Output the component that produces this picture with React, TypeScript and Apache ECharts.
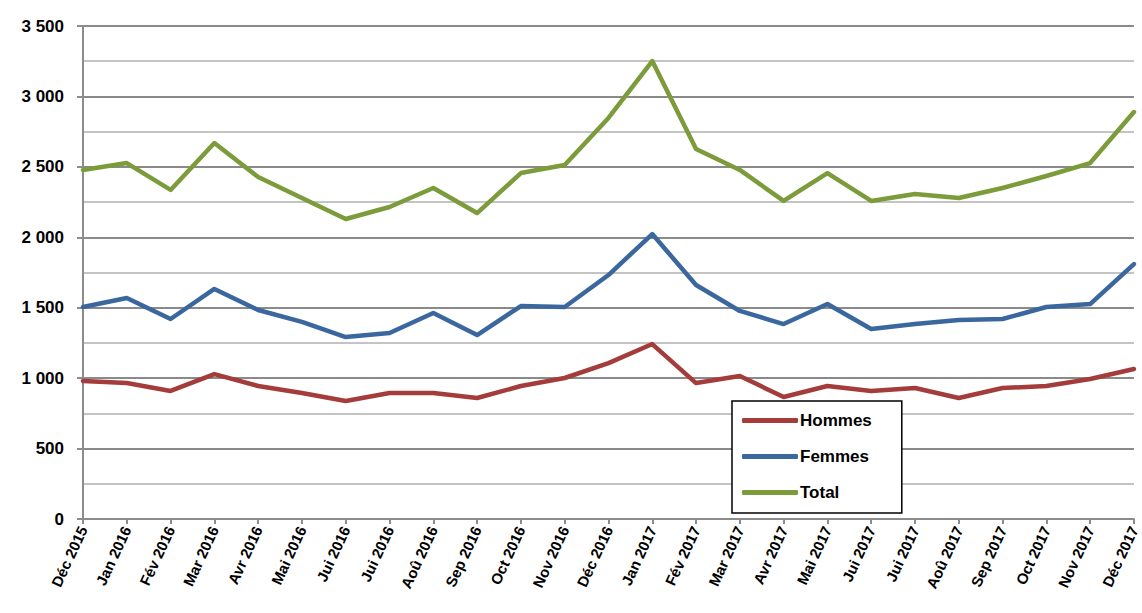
import React, { useEffect, useRef } from "react";
import * as echarts from "echarts";

const categories = [
  "Déc 2015", "Jan 2016", "Fév 2016", "Mar 2016", "Avr 2016", "Mai 2016", "Jui 2016", "Jui 2016",
  "Aoû 2016", "Sep 2016", "Oct 2016", "Nov 2016", "Déc 2016", "Jan 2017", "Fév 2017", "Mar 2017",
  "Avr 2017", "Mai 2017", "Jui 2017", "Jui 2017", "Aoû 2017", "Sep 2017", "Oct 2017", "Nov 2017", "Déc 2017",
];

const hommes = [980, 965, 909, 1029, 944, 895, 838, 895, 895, 859, 944, 1001, 1107, 1242, 965, 1015, 866, 944, 909, 930, 859, 930, 944, 994, 1065];
const femmes = [1505, 1569, 1420, 1633, 1484, 1399, 1292, 1320, 1462, 1306, 1512, 1505, 1732, 2023, 1661, 1477, 1384, 1526, 1349, 1384, 1413, 1420, 1505, 1526, 1810];
const total = [2478, 2527, 2336, 2669, 2428, 2279, 2130, 2215, 2350, 2172, 2456, 2513, 2847, 3251, 2627, 2478, 2258, 2456, 2258, 2307, 2279, 2350, 2435, 2527, 2889];

const FONT = "Liberation Sans, Arial, sans-serif";

export default function App() {
  const ref = useRef<HTMLDivElement>(null);
  useEffect(() => {
    const chart = echarts.init(ref.current!, null, { renderer: "svg" });
    const mk = (name: string, data: number[], color: string) => ({
      name,
      type: "line",
      data,
      symbol: "none",
      lineStyle: { color, width: 4.5, join: "round", cap: "round" },
      itemStyle: { color },
    });
    chart.setOption({
      animation: false,
      backgroundColor: "#ffffff",
      grid: { left: 83, right: 4, top: 26, bottom: 94, containLabel: false },
      legend: {
        orient: "vertical",
        left: 732,
        top: 401,
        padding: [11, 30, 12, 10],
        itemGap: 19,
        itemWidth: 56,
        itemHeight: 5,
        icon: "roundRect",
        borderColor: "#000",
        borderWidth: 1.5,
        backgroundColor: "#fff",
        textStyle: { fontFamily: FONT, fontWeight: "bold", fontSize: 17, color: "#000", padding: [0, 0, 0, -3] },
        data: ["Hommes", "Femmes", "Total"],
      },
      xAxis: {
        type: "category",
        data: categories,
        boundaryGap: false,
        axisLine: { lineStyle: { color: "#8c8c8c", width: 2 } },
        axisTick: { show: true, length: 5, lineStyle: { color: "#8c8c8c", width: 2 } },
        axisLabel: {
          interval: 0,
          rotate: 65,
          margin: 8,
          fontFamily: FONT,
          fontWeight: "bold",
          fontSize: 15,
          color: "#000",
        },
      },
      yAxis: {
        type: "value",
        min: 0,
        max: 3500,
        interval: 500,
        axisLine: { show: true, lineStyle: { color: "#8c8c8c", width: 2 } },
        axisTick: { show: true, length: 6, lineStyle: { color: "#8c8c8c", width: 2 } },
        axisLabel: {
          margin: 19,
          fontFamily: FONT,
          fontWeight: "bold",
          fontSize: 17,
          color: "#000",
          formatter: (v: number) => String(v).replace(/\B(?=(\d{3})+(?!\d))/g, " "),
        },
        splitLine: { show: true, lineStyle: { color: "#8a8a8a", width: 2 } },
        minorTick: { show: false, splitNumber: 2 },
        minorSplitLine: { show: true, lineStyle: { color: "#c4c4c4", width: 2 } },
      },
      series: [
        mk("Hommes", hommes, "#A33C3A"),
        mk("Femmes", femmes, "#3B679F"),
        mk("Total", total, "#7C9B3A"),
      ],
    });
    return () => chart.dispose();
  }, []);
  return <div ref={ref} style={{ width: 1142, height: 613, position: "absolute", left: 0, top: 0 }} />;
}
